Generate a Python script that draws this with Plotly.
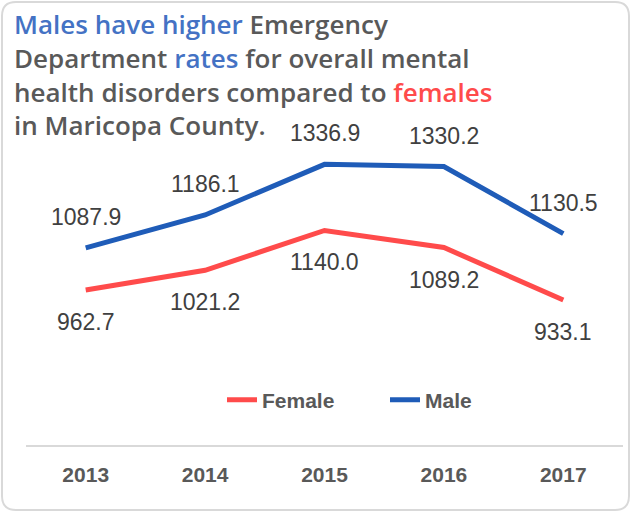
import plotly.graph_objects as go

YEARS = ["2013", "2014", "2015", "2016", "2017"]
FEMALE = [962.7, 1021.2, 1140.0, 1089.2, 933.1]
MALE = [1087.9, 1186.1, 1336.9, 1330.2, 1130.5]

W, H = 631, 512
ML, MR, MT, MB = 26, 8, 30, 67
FONT = "Liberation Sans"
TFONT = "Open Sans"
GREY = "#595959"
RED = "#FF4B4B"
BLUE = "#1F5CB8"
TITLE_BLUE = "#4472C4"


def px_to_paper(x, y):
    pw = W - ML - MR
    ph = H - MT - MB
    return (x - ML) / pw, (H - MB - y) / ph


def rounded_box(x0, y0, x1, y1, r):
    def p(x, y):
        px, py = px_to_paper(x, y)
        return f"{px:.5f},{py:.5f}"

    path = f"M {p(x0 + r, y0)} L {p(x1 - r, y0)} Q {p(x1, y0)} {p(x1, y0 + r)} "
    path += f"L {p(x1, y1 - r)} Q {p(x1, y1)} {p(x1 - r, y1)} "
    path += f"L {p(x0 + r, y1)} Q {p(x0, y1)} {p(x0, y1 - r)} "
    path += f"L {p(x0, y0 + r)} Q {p(x0, y0)} {p(x0 + r, y0)} Z"
    return path


fig = go.Figure()
fig.add_trace(go.Scatter(x=YEARS, y=FEMALE, mode="lines", name="Female",
                         line=dict(color=RED, width=5)))
fig.add_trace(go.Scatter(x=YEARS, y=MALE, mode="lines", name="Male",
                         line=dict(color=BLUE, width=5)))

# data labels: male above the line, female below (category axis -> index positions)
for i, v in enumerate(MALE):
    fig.add_annotation(x=i, y=v, text=f"{v:.1f}", showarrow=False, yshift=31,
                       font=dict(family=FONT, size=23, color="#404040"))
for i, v in enumerate(FEMALE):
    fig.add_annotation(x=i, y=v, text=f"{v:.1f}", showarrow=False, yshift=-32,
                       font=dict(family=FONT, size=23, color="#404040"))

title = (
    f"<span style='color:{TITLE_BLUE}'>Males have higher</span> Emergency<br>"
    f"Department <span style='color:{TITLE_BLUE}'>rates</span> for overall mental<br>"
    f"health disorders compared to <span style='color:{RED}'>females</span><br>"
    "in Maricopa County."
)
tx, ty = px_to_paper(12, 4)
fig.add_annotation(xref="paper", yref="paper", x=tx, y=ty, xanchor="left", yanchor="top",
                   align="left", showarrow=False, text=title,
                   font=dict(family=TFONT, size=26, color=GREY, weight=600))

fig.add_shape(type="path", xref="paper", yref="paper",
              path=rounded_box(2, 2, 629, 510, 14),
              line=dict(color="#D9D9D9", width=2), layer="below")

lx, ly = px_to_paper(222, 400)
fig.update_layout(
    width=W, height=H,
    margin=dict(l=ML, r=MR, t=MT, b=MB),
    paper_bgcolor="white", plot_bgcolor="white",
    showlegend=True,
    legend=dict(orientation="h", x=lx, y=ly, xanchor="left", yanchor="middle",
                font=dict(family=FONT, size=21, color=GREY, weight="bold"),
                bgcolor="rgba(0,0,0,0)", entrywidth=118),
    xaxis=dict(type="category", range=[-0.5, 4.5], showgrid=False, showline=True,
               linecolor="#D9D9D9", linewidth=2, ticks="", ticklabelstandoff=10,
               tickfont=dict(family=FONT, size=21, color=GREY, weight="bold")),
    yaxis=dict(range=[501, 1737], visible=False, showgrid=False, zeroline=False),
)

fig.write_html("out.html", config={"displayModeBar": False},
               post_script="document.body.style.margin='0px';")
